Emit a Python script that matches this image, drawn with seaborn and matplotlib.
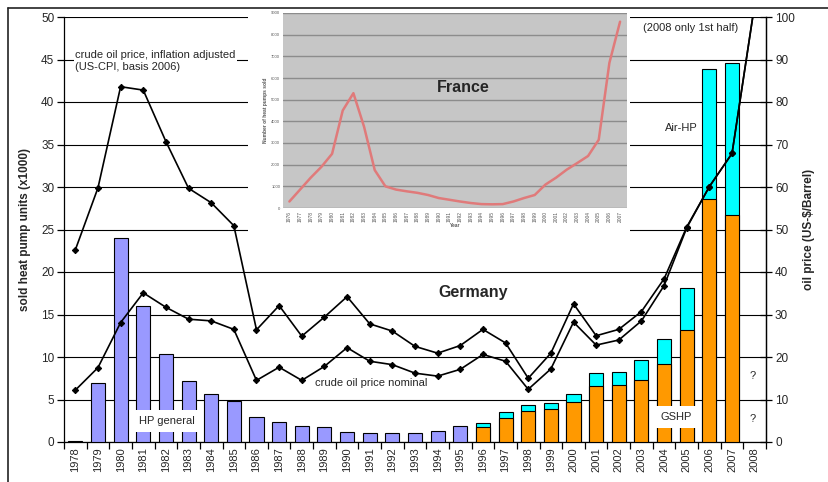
import numpy as np
import pandas as pd
import matplotlib
matplotlib.use("Agg")
import matplotlib.pyplot as plt
import seaborn as sns
from matplotlib.lines import Line2D
from matplotlib.patches import Rectangle

# ---------------- data ----------------
years = [str(y) for y in range(1978, 2009)]

hp_years = years[:18]                      # 1978..1995
hp_general = [0.15, 6.9, 24.0, 16.0, 10.4, 7.15, 5.7, 4.8, 2.9, 2.4,
              1.85, 1.75, 1.15, 1.05, 1.05, 1.1, 1.3, 1.85]

split_years = years[18:30]                 # 1996..2007
gshp = [1.73, 2.8, 3.65, 3.85, 4.67, 6.6, 6.7, 7.25, 9.2, 13.2, 28.6, 26.7]
hp_total = [2.24, 3.5, 4.3, 4.6, 5.65, 8.1, 8.2, 9.65, 12.15, 18.15, 43.85, 44.6]

oil_real = [45.2, 59.8, 83.6, 82.8, 70.7, 59.7, 56.3, 50.9, 26.4, 32.1,
            24.9, 29.4, 34.2, 27.8, 26.1, 22.5, 20.9, 22.7, 26.5, 23.3,
            15.0, 20.9, 32.5, 25.0, 26.5, 30.7, 38.4, 50.6, 60.1, 67.9, 103.0]
oil_nominal = [12.2, 17.5, 28.1, 35.1, 31.7, 28.9, 28.5, 26.5, 14.5, 17.6,
               14.5, 17.8, 22.2, 19.0, 18.2, 16.2, 15.5, 17.1, 20.6, 19.0,
               12.4, 17.2, 28.2, 22.8, 24.0, 28.5, 36.8, 50.4, 60.1, 67.9, 103.0]

france_years = [str(y) for y in range(1976, 2008)]
france_sales = [300, 850, 1400, 1900, 2500, 4500, 5300, 3750, 1750, 1000,
                850, 770, 700, 600, 460, 380, 300, 230, 180, 170,
                180, 300, 460, 600, 1080, 1400, 1770, 2080, 2400, 3150,
                6700, 8600]

left_ticks = list(range(0, 51, 5))
right_ticks = list(range(0, 101, 10))
france_ticks = list(range(0, 9001, 1000))

# ---------------- style ----------------
sns.set_theme(style="white")
plt.rcParams['font.family'] = ['Liberation Sans', 'DejaVu Sans']

W, H = 829, 482
fig = plt.figure(figsize=(W / 100, H / 100), dpi=100)


def fx(x):
    return x / W


def fy(y):
    return 1 - y / H


ax = fig.add_axes([fx(64), fy(442), 702 / W, 425 / H])

# bars
df_hp = pd.DataFrame({"year": hp_years, "units": hp_general})
df_tot = pd.DataFrame({"year": split_years, "units": hp_total})
df_gs = pd.DataFrame({"year": split_years, "units": gshp})
common = dict(x="year", y="units", order=years, edgecolor="black",
              linewidth=0.8, width=0.62, saturation=1, ax=ax, zorder=3)
sns.barplot(data=df_hp, color="#9999FF", **common)
sns.barplot(data=df_tot, color="#00FFFF", **common)
sns.barplot(data=df_gs, color="#FF9900", **common)

ax.set_xlim(-0.5, len(years) - 0.5)
ax.set_ylim(0, 50)
ax.set_yticks(left_ticks)
ax.yaxis.grid(True, color="black", lw=0.8)
ax.set_axisbelow(True)
ax.spines["top"].set_visible(False)
for s in ["left", "bottom", "right"]:
    ax.spines[s].set_color("black")
    ax.spines[s].set_linewidth(0.9)
ax.set_xticks(range(len(years)))
ax.set_xticklabels(years, rotation=90, fontsize=8)
ax.set_xticks(np.arange(-0.5, len(years), 1), minor=True)
ax.tick_params(axis="x", which="major", length=0, pad=4)
ax.tick_params(axis="x", which="minor", bottom=True, direction="out", length=5, width=0.9, color="black")
ax.tick_params(axis="y", left=True, direction="out", length=5, width=0.9, labelsize=8.5, color="black", pad=2)
ax.set_xlabel("")
ax.set_ylabel("sold heat pump units (x1000)", fontsize=8.5, fontweight="bold", labelpad=7)

# oil price lines
ax2 = ax.twinx()
pos = [years.index(y) for y in years]
line_kw = dict(color="black", lw=1.2, marker="D", markersize=3.2,
               markeredgecolor="black", ax=ax2)
sns.lineplot(x=pos, y=oil_real, **line_kw)
sns.lineplot(x=pos, y=oil_nominal, **line_kw)
ax2.set_ylim(0, 100)
ax2.set_yticks(right_ticks)
ax2.set_xlim(-0.5, len(years) - 0.5)
for s in ["top", "left", "bottom"]:
    ax2.spines[s].set_visible(False)
ax2.spines["right"].set_color("black")
ax2.spines["right"].set_linewidth(0.9)
ax2.tick_params(axis="y", right=True, direction="inout", length=9, width=0.9, labelsize=8.5, color="black", pad=2)
ax2.set_ylabel("oil price (US-$/Barrel)", fontsize=8.5, fontweight="bold", labelpad=6)
ax2.grid(False)

# white backing for inset picture
fig.add_artist(Rectangle((fx(248), fy(242)), 382 / W, 233 / H,
                         transform=fig.transFigure, facecolor="white",
                         edgecolor="none", zorder=1))

# inset (France)
ins = fig.add_axes([fx(283), fy(208), 344 / W, 195 / H])
ins.set_zorder(2)
ins.set_facecolor("#c6c6c6")
fpos = [france_years.index(y) for y in france_years]
sns.lineplot(x=fpos, y=france_sales, color="#e07a7a", lw=1.8, ax=ins)
ins.set_xlim(-0.6, len(france_years) - 0.35)
ins.set_ylim(0, 9000)
ins.set_yticks(france_ticks)
ins.set_yticklabels([str(v) for v in france_ticks], fontsize=3, color="#555555")
ins.set_xticks(fpos)
ins.set_xticklabels(france_years, rotation=90, fontsize=3.5, color="#555555")
ins.tick_params(length=0, pad=2)
ins.yaxis.grid(True, color="#8c8c8c", lw=1)
ins.set_axisbelow(True)
for s in ins.spines.values():
    s.set_visible(False)
ins.set_xlabel("Year", fontsize=3.5, fontweight="bold", color="#555555", labelpad=1)
ins.set_ylabel("Number of heat pumps sold", fontsize=3.5, fontweight="bold", color="#555555", labelpad=2)

# annotations
fig.text(fx(463), fy(88), "France", fontsize=11.5, fontweight="bold", ha="center", va="center", zorder=5)
fig.text(fx(473), fy(293), "Germany", fontsize=11.5, fontweight="bold", ha="center", va="center", zorder=5)
fig.text(fx(75), fy(61), "crude oil price, inflation adjusted\n(US-CPI, basis 2006)", fontsize=8,
         ha="left", va="center", linespacing=1.25, zorder=5,
         bbox=dict(facecolor="white", edgecolor="none", pad=1))
fig.text(fx(315), fy(383), "crude oil price nominal", fontsize=8, ha="left", va="center", zorder=5)
fig.text(fx(167), fy(421), "HP general", fontsize=8, ha="center", va="center", zorder=5,
         bbox=dict(facecolor="white", edgecolor="none", boxstyle="square,pad=0.55"))
fig.text(fx(676), fy(417), "GSHP", fontsize=8, ha="center", va="center", zorder=5,
         bbox=dict(facecolor="white", edgecolor="none", boxstyle="square,pad=0.5"))
fig.text(fx(681), fy(128), "Air-HP", fontsize=8, ha="center", va="center", zorder=5)
fig.text(fx(691), fy(28), "(2008 only 1st half)", fontsize=8, ha="center", va="center", zorder=5)
fig.text(fx(753), fy(376), "?", fontsize=8, ha="center", va="center", zorder=5)
fig.text(fx(753), fy(419), "?", fontsize=8, ha="center", va="center", zorder=5)

# outer frame (cropped chart area border)
fig.add_artist(Line2D([fx(8), 1], [fy(8), fy(8)], transform=fig.transFigure, color="#222222", lw=1.2, zorder=6))
fig.add_artist(Line2D([fx(8), fx(8)], [fy(8), 0], transform=fig.transFigure, color="#222222", lw=1.2, zorder=6))

fig.savefig("out.png", dpi=100)
